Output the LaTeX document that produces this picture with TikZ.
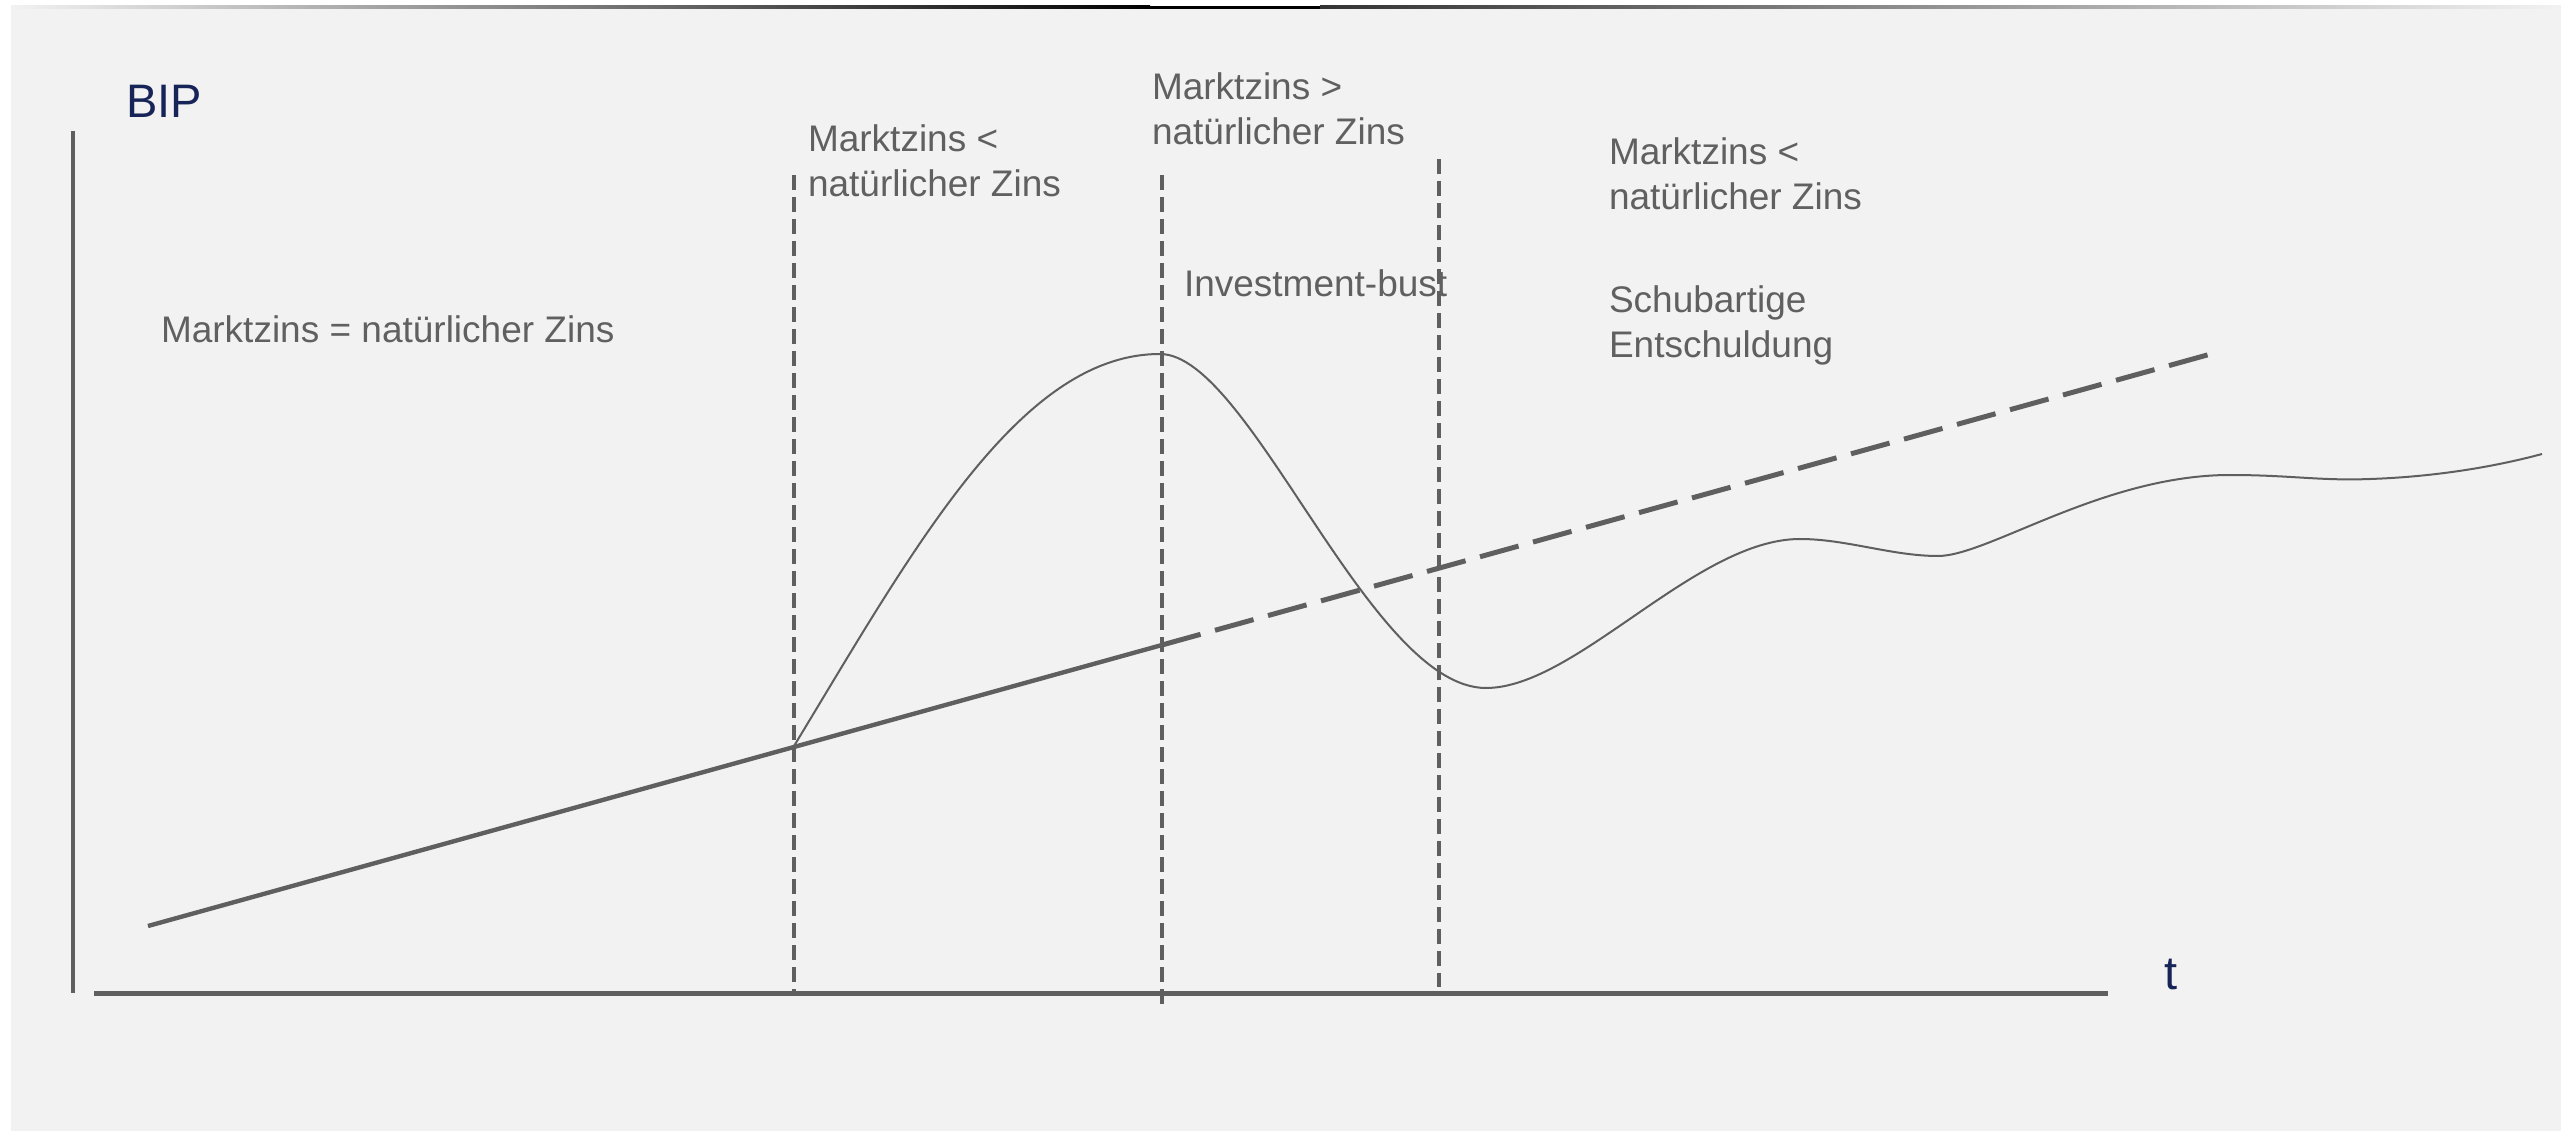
\documentclass[tikz,border=0pt]{standalone}
\usepackage{fontspec}
\setmainfont{Liberation Sans}
\definecolor{panel}{HTML}{F2F2F2}
\definecolor{ink}{HTML}{5F5F5F}
\definecolor{txt}{HTML}{606060}
\definecolor{navy}{RGB}{22,36,88}
% two stacked lines whose reference point is the first baseline
\newcommand{\lbltwo}[2]{\vtop{\baselineskip=22.5pt\hbox{#1}\hbox{#2}}}

\begin{document}
\begin{tikzpicture}[x=0.5pt,y=-0.5pt,
  lbl/.style={anchor=base west,inner sep=0pt,outer sep=0pt,text=txt,
              font=\fontsize{18.5}{22.5}\selectfont},
  axislbl/.style={anchor=base west,inner sep=0pt,outer sep=0pt,text=navy,
              font=\fontsize{23.5}{28}\selectfont},
  axisline/.style={draw=ink,line width=2.5pt},
  trendsolid/.style={draw=ink,line width=2.2pt},
  trenddash/.style={draw=ink,line width=2.5pt,dash pattern=on 20pt off 7.5pt},
  phase/.style={draw=ink,line width=2.2pt,dash pattern=on 7.5pt off 3.5pt},
  gdp/.style={draw=ink,line width=1pt,line join=round}]

\useasboundingbox (0,0) rectangle (2574,1133);
\fill[white] (0,0) rectangle (2574,1133);
\fill[panel] (11,6) rectangle (2561,1131);

% thin shaded rule along the top edge
\shade[left color=panel, right color=black] (11,6) rectangle (1150,9);
\fill[black] (1150,6) rectangle (1320,9);
\shade[left color=black!80, right color=panel] (1320,6) rectangle (2561,9);

% axes
\coordinate (ytop) at (73,131);
\coordinate (ybot) at (73,993);
\coordinate (xl) at (94,993);
\coordinate (xr) at (2108,993);
\draw[axisline,line width=2.2pt] (ytop) -- (ybot);
\draw[axisline] (xl) -- (xr);

\node[axislbl] (bip) at (126,118) {BIP};
\node[axislbl] (tlab) at (2164,989) {t};

% phase boundaries
\coordinate (v1top) at (794,175);
\coordinate (v1bot) at (794,993);
\coordinate (v2top) at (1162,175);
\coordinate (v2bot) at (1162,1006);
\coordinate (v3top) at (1439,159);
\coordinate (v3bot) at (1439,987);
\draw[phase] (v1top) -- (v1bot);
\draw[phase] (v2top) -- (v2bot);
\draw[phase] (v3top) -- (v3bot);

% trend growth path
\coordinate (t0) at (148,926);
\coordinate (t1) at (1162,645);
\coordinate (t2) at (2218,352);
\draw[trendsolid] (t0) -- (t1);
\draw[trenddash] (t1) -- (t2);

% actual GDP path: boom, bust, recovery
\coordinate (g0) at (794,746);   % boom starts on the trend
\coordinate (g1) at (1160,354);  % peak
\coordinate (g2) at (1486,688);  % trough
\coordinate (g3) at (1800,539);
\coordinate (g4) at (1938,556);
\coordinate (g5) at (2230,475);
\coordinate (g6) at (2370,479);
\coordinate (g7) at (2542,454);
\draw[gdp] (g0)
  .. controls (914,548) and (1020,354) .. (g1)
  .. controls (1250,354) and (1369,688) .. (g2)
  .. controls (1576,688) and (1696,539) .. (g3)
  .. controls (1846,539) and (1892,556) .. (g4)
  .. controls (1988,556) and (2103,475) .. (g5)
  .. controls (2290,475) and (2320,481) .. (g6)
  .. controls (2430,477) and (2490,468) .. (g7);

% phase labels
\node[lbl] (eq) at (161,343) {Marktzins = natürlicher Zins};
\node[lbl] (boom) at (808,152) {\lbltwo{Marktzins <}{natürlicher Zins}};
\node[lbl] (above) at (1152,100) {\lbltwo{Marktzins >}{natürlicher Zins}};
\node[lbl] (bust) at (1184,297) {Investment-bust};
\node[lbl] (below) at (1609,165) {\lbltwo{Marktzins <}{natürlicher Zins}};
\node[lbl] (deleverage) at (1609,313) {\lbltwo{Schubartige}{Entschuldung}};
\end{tikzpicture}
\end{document}
